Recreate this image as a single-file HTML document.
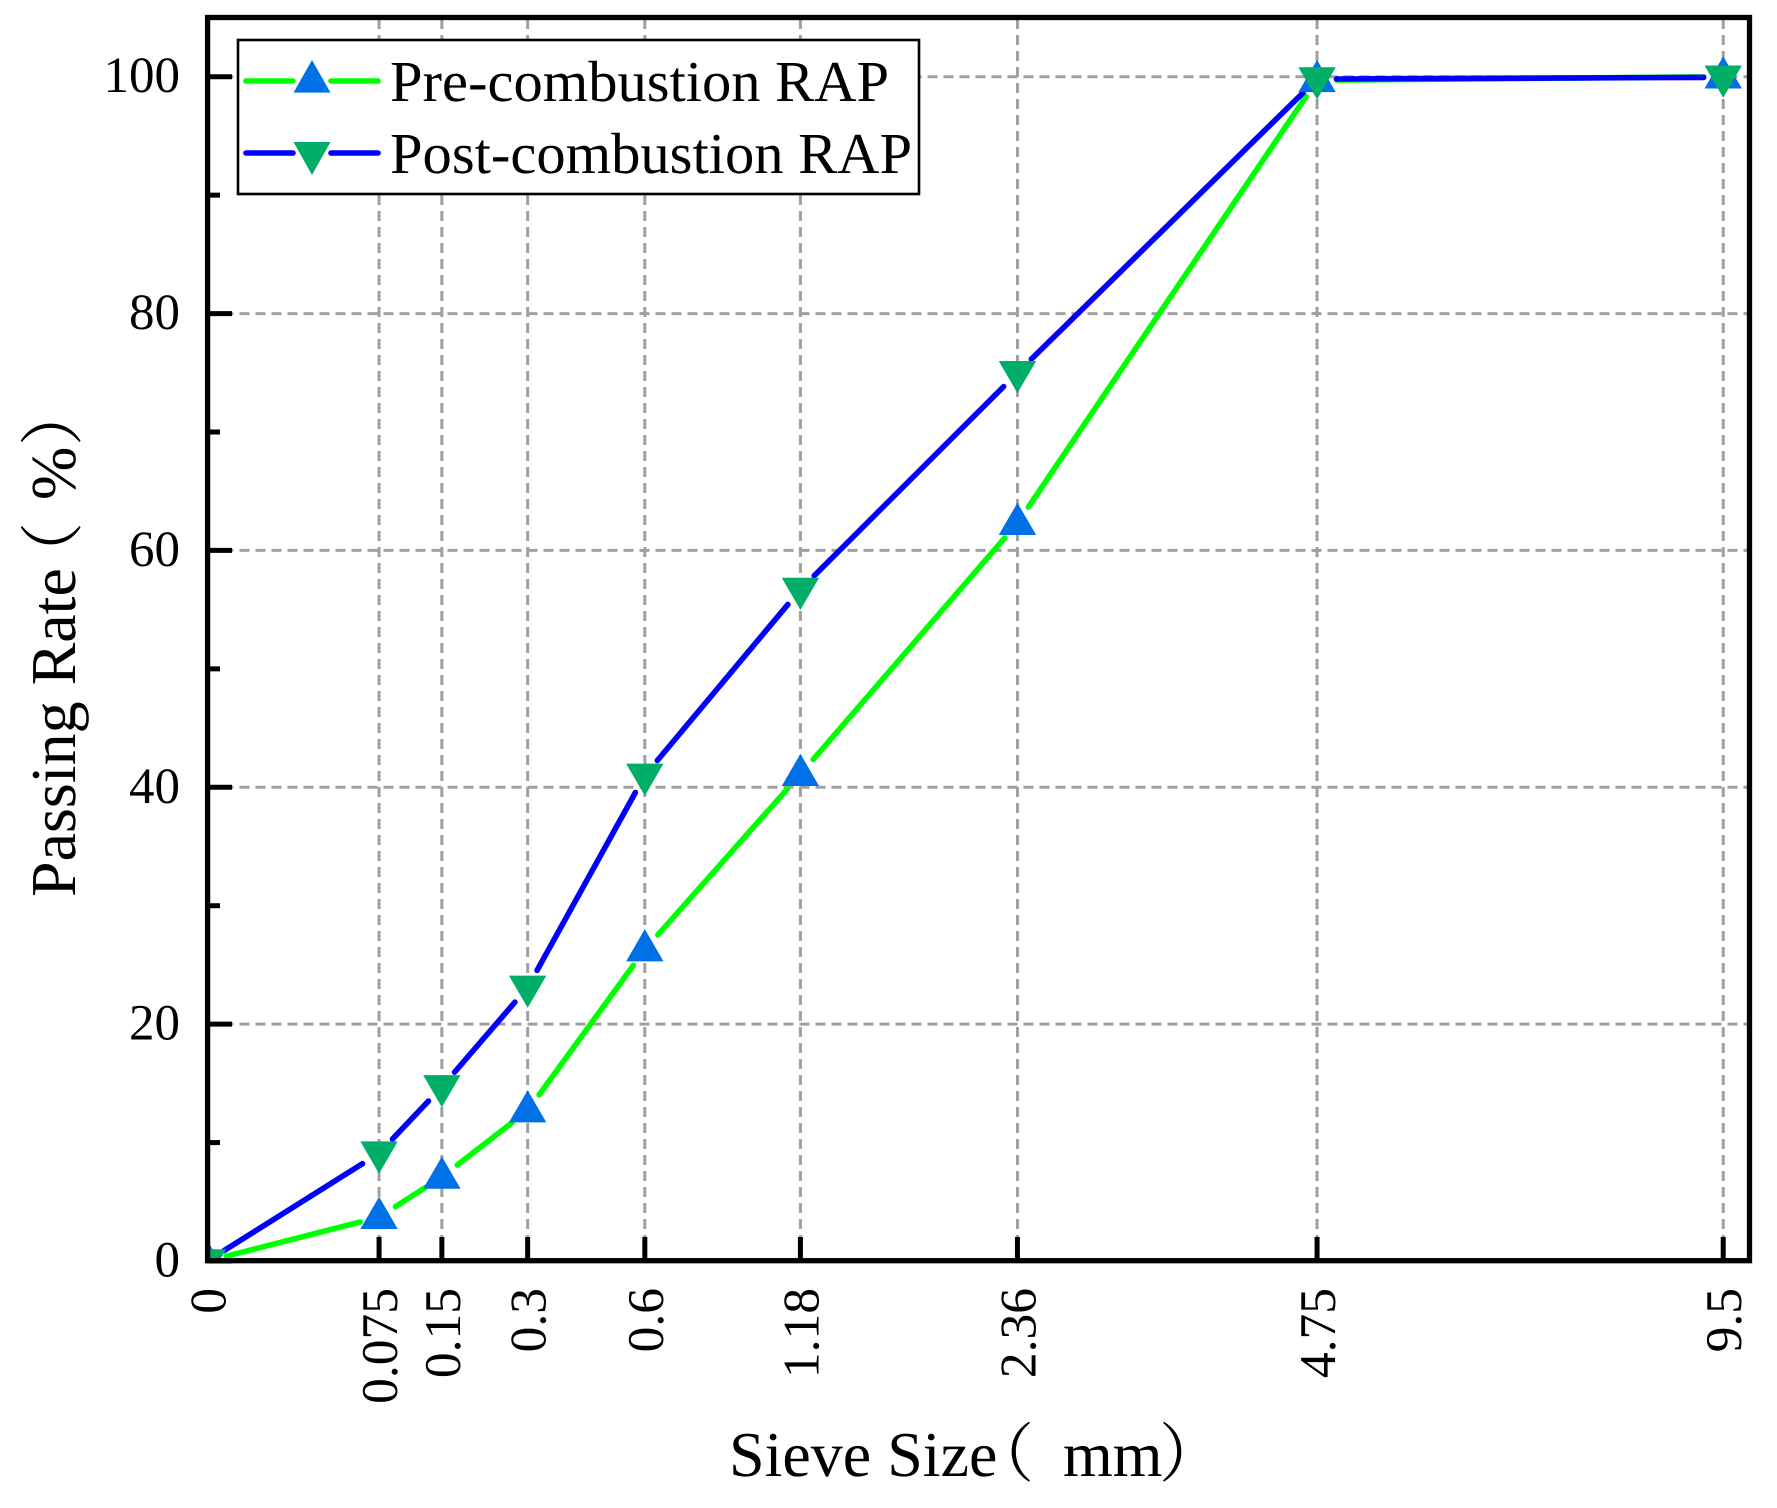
<!DOCTYPE html>
<html lang="en">
<head>
<meta charset="utf-8">
<title>Sieve gradation chart</title>
<style>
html,body{margin:0;padding:0;background:#fff;}
svg{display:block;}
text{font-family:"Liberation Serif","Noto Serif CJK SC",serif;fill:#000;text-rendering:geometricPrecision;}
</style>
</head>
<body>
<svg id="chart" xmlns="http://www.w3.org/2000/svg" width="1777" height="1508" viewBox="0 0 1777 1508">
  <rect x="0" y="0" width="1777" height="1508" fill="#fff"/>
  <defs>
    <clipPath id="plot-clip"><rect x="207" y="17" width="1543" height="1246"/></clipPath>
  </defs>
  <g id="grid"></g>
  <g id="series" clip-path="url(#plot-clip)"></g>
  <g id="ticks"></g>
  <rect x="207.6" y="17.5" width="1541.9" height="1243.2" fill="none" stroke="#000" stroke-width="5.3"/>
  <g id="tick-labels"></g>

  <text transform="translate(75,897) rotate(-90)" font-size="64"><tspan x="0">Passing Rate</tspan><tspan x="311" font-family="'Noto Serif CJK SC',serif">（</tspan><tspan x="397">%</tspan><tspan x="451" font-family="'Noto Serif CJK SC',serif">）</tspan></text>

  <text y="1476" font-size="64"><tspan x="729">Sieve Size</tspan><tspan x="970" font-family="'Noto Serif CJK SC',serif">（</tspan><tspan x="1063">mm</tspan><tspan x="1159" font-family="'Noto Serif CJK SC',serif">）</tspan></text>

  <g>
    <rect x="238" y="40" width="681" height="154" fill="#fff" stroke="#000" stroke-width="2.6"/>
    <g>
      <line x1="246" y1="81" x2="293" y2="81" stroke="#00ff00" stroke-width="5.6" stroke-linecap="round"/>
      <line x1="331" y1="81" x2="378" y2="81" stroke="#00ff00" stroke-width="5.6" stroke-linecap="round"/>
      <polygon points="312,60 330.5,92.6 293.5,92.6" fill="#0070e6"/>
      <text x="390" y="101" font-size="58" textLength="499" lengthAdjust="spacingAndGlyphs">Pre-combustion RAP</text>
    </g>
    <g>
      <line x1="246" y1="153" x2="293" y2="153" stroke="#0000ff" stroke-width="5.6" stroke-linecap="round"/>
      <line x1="331" y1="153" x2="378" y2="153" stroke="#0000ff" stroke-width="5.6" stroke-linecap="round"/>
      <polygon points="293.5,142 330.5,142 312,175" fill="#00ae68"/>
      <text x="390" y="173" font-size="58" textLength="522" lengthAdjust="spacingAndGlyphs">Post-combustion RAP</text>
    </g>
  </g>
</svg>
<script>
// Chart data
const sieveSizes = [0, 0.075, 0.15, 0.3, 0.6, 1.18, 2.36, 4.75, 9.5];
const sieveLabels = ["0", "0.075", "0.15", "0.3", "0.6", "1.18", "2.36", "4.75", "9.5"];
const preCombustion = [0, 3.7, 7.1, 12.7, 26.3, 41.1, 62.3, 99.7, 100];
const postCombustion = [0, 9.1, 14.7, 23.1, 41.0, 56.7, 75.0, 99.8, 99.95];
const yMajorTicks = [0, 20, 40, 60, 80, 100];
const yMinorTicks = [10, 30, 50, 70, 90];

// Axis functions
const X_LEFT = 207.5, X_RIGHT = 1749.5, X_MAX = 9.87, X_POW = 0.45;
const Y_BOTTOM = 1261, Y_TOP = 17.5, Y_MAX = 105;
function xAxis(v) {
  return X_LEFT + (X_RIGHT - X_LEFT) * Math.pow(v / X_MAX, X_POW);
}
function yAxis(v) {
  return Y_BOTTOM - (Y_BOTTOM - Y_TOP) * v / Y_MAX;
}

const SVG_NS = 'http://www.w3.org/2000/svg';
function make(tag, attrs, parent) {
  const el = document.createElementNS(SVG_NS, tag);
  for (const k in attrs) el.setAttribute(k, attrs[k]);
  parent.appendChild(el);
  return el;
}

const gridG = document.getElementById('grid');
const ticksG = document.getElementById('ticks');
const labelsG = document.getElementById('tick-labels');
const seriesG = document.getElementById('series');

// Horizontal grid, y ticks, y labels
yMajorTicks.forEach(function (v) {
  const y = yAxis(v);
  if (v !== 0) {
    const g = make('line', {x1: X_LEFT, y1: y, x2: X_RIGHT, y2: y, stroke: '#a0a0a0', 'stroke-width': 3, 'stroke-dasharray': '10 6'}, gridG);
    
    
  }
  const t = make('line', {x1: X_LEFT, y1: y, x2: 232, y2: y, stroke: '#000', 'stroke-width': 5}, ticksG);
  
  
  const l = make('text', {x: 180, y: y + 15.5, 'font-size': 51, 'text-anchor': 'end'}, labelsG);
  l.textContent = String(v);
  
  
});
yMinorTicks.forEach(function (v) {
  const y = yAxis(v);
  const t = make('line', {x1: X_LEFT, y1: y, x2: 220, y2: y, stroke: '#000', 'stroke-width': 5}, ticksG);
  
  
});

// Vertical grid, x ticks, x labels
sieveSizes.forEach(function (v, i) {
  const x = xAxis(v);
  if (v !== 0) {
    const g = make('line', {x1: x, y1: Y_BOTTOM, x2: x, y2: Y_TOP, stroke: '#a0a0a0', 'stroke-width': 3, 'stroke-dasharray': '10 6'}, gridG);
    
    
    const t = make('line', {x1: x, y1: Y_BOTTOM, x2: x, y2: 1237, stroke: '#000', 'stroke-width': 5}, ticksG);
    
    
  }
  const lx = x + 18;
  const l = make('text', {transform: 'translate(' + lx + ',1288) rotate(-90)', 'font-size': 51.5, 'text-anchor': 'end'}, labelsG);
  l.textContent = sieveLabels[i];
  
  
});

// Series: line segments stop short of each marker
const GAP = 19.5;
function drawSegments(values, color, name) {
  for (let i = 0; i < values.length - 1; i++) {
    const x1 = xAxis(sieveSizes[i]), y1 = yAxis(values[i]);
    const x2 = xAxis(sieveSizes[i + 1]), y2 = yAxis(values[i + 1]);
    const len = Math.hypot(x2 - x1, y2 - y1);
    const ux = (x2 - x1) / len, uy = (y2 - y1) / len;
    const seg = make('line', {
      x1: x1 + ux * GAP, y1: y1 + uy * GAP,
      x2: x2 - ux * GAP, y2: y2 - uy * GAP,
      stroke: color, 'stroke-width': 5.6, 'stroke-linecap': 'round'
    }, seriesG);
    
    
  }
}
function drawUpMarkers(values, color, name) {
  values.forEach(function (v, i) {
    const x = xAxis(sieveSizes[i]), y = yAxis(v);
    const m = make('polygon', {points: x + ',' + (y - 20.4) + ' ' + (x + 18.7) + ',' + (y + 11.8) + ' ' + (x - 18.7) + ',' + (y + 11.8), fill: color}, seriesG);
    
    
  });
}
function drawDownMarkers(values, color, name, parent) {
  values.forEach(function (v, i) {
    const x = xAxis(sieveSizes[i]), y = yAxis(v);
    const m = make('polygon', {points: (x - 18.7) + ',' + (y - 11.8) + ' ' + (x + 18.7) + ',' + (y - 11.8) + ' ' + x + ',' + (y + 20.4), fill: color}, parent);
    
    
  });
}
drawSegments(preCombustion, '#00ff00', 'pre-combustion');
drawSegments(postCombustion, '#0000ff', 'post-combustion');
drawUpMarkers(preCombustion, '#0070e6', 'pre-combustion');
drawDownMarkers(postCombustion, '#00ae68', 'post-combustion', seriesG);
</script>
</body>
</html>
